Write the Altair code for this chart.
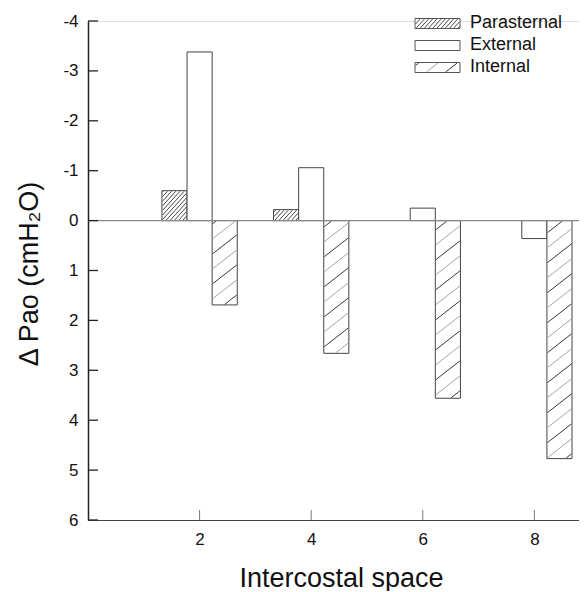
import altair as alt
import pandas as pd
import numpy as np

# ---- data ----
ics = [2, 4, 6, 8]
parasternal = [-0.60, -0.22, None, None]
external = [-3.38, -1.06, -0.25, 0.36]
internal = [1.69, 2.66, 3.56, 4.77]
series = ["Parasternal", "External", "Internal"]
y_ticks = [-4, -3, -2, -1, 0, 1, 2, 3, 4, 5, 6]
x_ticks = [2, 4, 6, 8]

# ---- layout ----
W, H = 491, 499
XMIN, XMAX = 0.0, 8.8
YMIN, YMAX = -4.0, 6.0
KX = W / (XMAX - XMIN)
KY = H / (YMAX - YMIN)
FONT = "Liberation Sans"

offsets = {"Parasternal": -0.45, "External": 0.0, "Internal": 0.45}
BW = 0.45
# hatch style: (vertical step px, slope, colours)
hatch_style = {
    "Parasternal": (4.6, 1.1, ["#333333", "#333333"]),
    "Internal": (15.0, 0.78, ["#222222", "#9a9a9a"]),
}

vals = {"Parasternal": parasternal, "External": external, "Internal": internal}
rows = []
for s in series:
    for g, v in zip(ics, vals[s]):
        if v is None:
            continue
        rows.append({"series": s, "ics": g, "value": v,
                     "x_lo": g + offsets[s] - BW / 2, "x_hi": g + offsets[s] + BW / 2})
bars = pd.DataFrame(rows)


def to_px(x, y):
    return (x - XMIN) * KX, (y - YMIN) * KY


def to_data(sx, sy):
    return sx / KX + XMIN, sy / KY + YMIN


def hatch_segments(ax, bx, ay, by, step, m, cols, inset=0.6):
    ax, bx, ay, by = ax + inset, bx - inset, ay + inset, by - inset
    out = []
    cmin, cmax = ay + m * ax, by + m * bx
    for k in range(int(np.ceil(cmin / step)), int(np.floor(cmax / step)) + 1):
        c = k * step
        x1 = max(ax, (c - by) / m)
        x2 = min(bx, (c - ay) / m)
        if x2 - x1 < 0.4:
            continue
        d1 = to_data(x1, c - m * x1)
        d2 = to_data(x2, c - m * x2)
        out.append({"hx": d1[0], "hy": d1[1], "hx2": d2[0], "hy2": d2[1],
                    "col": cols[k % 2]})
    return out


hrows = []
for _, r in bars.iterrows():
    if r["series"] not in hatch_style:
        continue
    step, m, cols = hatch_style[r["series"]]
    ax, s0 = to_px(r["x_lo"], 0.0)
    bx, s1 = to_px(r["x_hi"], r["value"])
    hrows += hatch_segments(ax, bx, min(s0, s1), max(s0, s1), step, m, cols)

# ---- legend (pixel layout converted to data coords) ----
LBX0, LBX1 = 327, 372
row_cy = [2.5, 24.5, 46.5]
LBH = 10
leg_boxes, leg_text = [], []
for s, cy in zip(series, row_cy):
    x0, y0 = to_data(LBX0, cy - LBH / 2)
    x1, y1 = to_data(LBX1, cy + LBH / 2)
    leg_boxes.append({"series": s, "x_lo": x0, "x_hi": x1, "y0": y0, "y1": y1})
    tx, ty = to_data(382, cy - 0.5)
    leg_text.append({"label": s, "tx": tx, "ty": ty})
    if s in hatch_style:
        step, m, cols = hatch_style[s]
        hrows += hatch_segments(LBX0, LBX1, cy - LBH / 2, cy + LBH / 2, step, m, cols)

hatch = pd.DataFrame(hrows)
leg_boxes = pd.DataFrame(leg_boxes)
leg_text = pd.DataFrame(leg_text)

xs = alt.Scale(domain=[XMIN, XMAX], nice=False, zero=False)
ys = alt.Scale(domain=[YMIN, YMAX], nice=False, zero=False, reverse=True)

x_axis = alt.Axis(values=x_ticks, ticks=False, tickSize=0, grid=False,
                  labelExpr="'' + datum.value",
                  domainColor="#444444", domainWidth=1.2,
                  labelFontSize=17, labelPadding=11, labelColor="#111111",
                  labelFont=FONT, title="Intercostal space", titleFont=FONT,
                  titleFontSize=27, titleFontWeight="normal", titleColor="#111111",
                  titleX=253, titleY=66, titleBaseline="alphabetic", titleAlign="center")
y_axis = alt.Axis(values=y_ticks, ticks=False, tickSize=0, grid=False,
                  labelExpr="'' + datum.value",
                  domainColor="#222222", domainWidth=1.5,
                  labelFontSize=17, labelPadding=10, labelColor="#111111",
                  labelFont=FONT, title="Δ Pao (cmH₂O)", titleFont=FONT,
                  titleFontSize=27, titleFontWeight="normal", titleColor="#111111",
                  titleX=-51, titleY=H / 2 + 3, titleBaseline="alphabetic",
                  titleAlign="center", titleAngle=270)

base_bars = alt.Chart(bars).mark_bar(fill="white", stroke="#444444", strokeWidth=1).encode(
    x=alt.X("x_lo:Q", scale=xs, axis=x_axis),
    x2="x_hi:Q",
    y=alt.Y("value:Q", scale=ys, axis=y_axis),
    y2=alt.Y2(datum=0),
)

hatch_layer = alt.Chart(hatch).mark_rule(strokeWidth=0.9).encode(
    x=alt.X("hx:Q", scale=xs), x2="hx2:Q",
    y=alt.Y("hy:Q", scale=ys), y2="hy2:Q",
    color=alt.Color("col:N", scale=None),
)

zero_line = alt.Chart(pd.DataFrame({"z": [0]})).mark_rule(color="#888888", strokeWidth=1.2).encode(
    y=alt.Y("z:Q", scale=ys), x=alt.value(0), x2=alt.value(W)
)

ytick_layer = alt.Chart(pd.DataFrame({"t": y_ticks})).mark_rule(color="#222222", strokeWidth=1.3).encode(
    y=alt.Y("t:Q", scale=ys), x=alt.value(0), x2=alt.value(10)
)
xtick_layer = alt.Chart(pd.DataFrame({"t": x_ticks})).mark_rule(color="#777777", strokeWidth=1).encode(
    x=alt.X("t:Q", scale=xs), y=alt.value(H), y2=alt.value(H - 10)
)

leg_box_layer = alt.Chart(leg_boxes).mark_rect(fill="white", stroke="#555555", strokeWidth=1).encode(
    x=alt.X("x_lo:Q", scale=xs), x2="x_hi:Q",
    y=alt.Y("y0:Q", scale=ys), y2="y1:Q",
)
leg_text_layer = alt.Chart(leg_text).mark_text(
    align="left", baseline="middle", font=FONT, fontSize=18, color="#111111"
).encode(
    x=alt.X("tx:Q", scale=xs), y=alt.Y("ty:Q", scale=ys), text="label:N"
)

chart = alt.layer(
    base_bars, leg_box_layer, hatch_layer, zero_line, ytick_layer, xtick_layer, leg_text_layer
).properties(
    width=W, height=H,
    autosize=alt.AutoSizeParams(type="none"),
    padding={"left": 80, "top": 13, "right": 0, "bottom": 71},
).configure_view(stroke=None).configure(font=FONT)

chart.save("out.html", embed_options={"renderer": "svg", "actions": False})
